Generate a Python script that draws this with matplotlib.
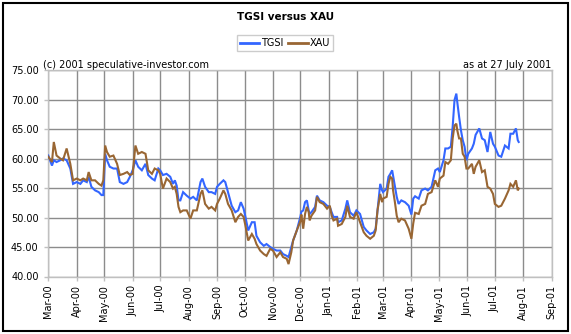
import matplotlib
matplotlib.use("Agg")
import matplotlib.pyplot as plt
import matplotlib.dates as mdates
from matplotlib.patches import Rectangle
import pandas as pd

dates = [
    "2000-03-01", "2000-03-05", "2000-03-07", "2000-03-10", "2000-03-14", "2000-03-17",
    "2000-03-21", "2000-03-25", "2000-03-28", "2000-04-01", "2000-04-05", "2000-04-08",
    "2000-04-12", "2000-04-14", "2000-04-17", "2000-04-21", "2000-04-25", "2000-04-28",
    "2000-04-30", "2000-05-02", "2000-05-04", "2000-05-07", "2000-05-11", "2000-05-15",
    "2000-05-18", "2000-05-22", "2000-05-26", "2000-05-29", "2000-06-01", "2000-06-04",
    "2000-06-07", "2000-06-11", "2000-06-15", "2000-06-18", "2000-06-22", "2000-06-25",
    "2000-06-29", "2000-07-01", "2000-07-04", "2000-07-08", "2000-07-12", "2000-07-15",
    "2000-07-17", "2000-07-19", "2000-07-21", "2000-07-23", "2000-07-26", "2000-07-30",
    "2000-08-03", "2000-08-06", "2000-08-10", "2000-08-14", "2000-08-16", "2000-08-19",
    "2000-08-23", "2000-08-26", "2000-08-30", "2000-09-01", "2000-09-04", "2000-09-08",
    "2000-09-10", "2000-09-13", "2000-09-17", "2000-09-21", "2000-09-24", "2000-09-27",
    "2000-09-30", "2000-10-02", "2000-10-05", "2000-10-09", "2000-10-12", "2000-10-14",
    "2000-10-18", "2000-10-22", "2000-10-25", "2000-10-29", "2000-11-01", "2000-11-05",
    "2000-11-09", "2000-11-12", "2000-11-16", "2000-11-18", "2000-11-21", "2000-11-23",
    "2000-11-27", "2000-12-01", "2000-12-02", "2000-12-04", "2000-12-06", "2000-12-08",
    "2000-12-10", "2000-12-11", "2000-12-13", "2000-12-17", "2000-12-19", "2000-12-22",
    "2000-12-26", "2000-12-30", "2001-01-02", "2001-01-04", "2001-01-06", "2001-01-10",
    "2001-01-11", "2001-01-15", "2001-01-19", "2001-01-21", "2001-01-24", "2001-01-28",
    "2001-01-31", "2001-02-04", "2001-02-08", "2001-02-11", "2001-02-15", "2001-02-19",
    "2001-02-21", "2001-02-23", "2001-02-26", "2001-02-28", "2001-03-01", "2001-03-05",
    "2001-03-07", "2001-03-09", "2001-03-11", "2001-03-12", "2001-03-14", "2001-03-16",
    "2001-03-18", "2001-03-21", "2001-03-25", "2001-03-29", "2001-04-01", "2001-04-03",
    "2001-04-05", "2001-04-09", "2001-04-12", "2001-04-16", "2001-04-19", "2001-04-23",
    "2001-04-27", "2001-04-30", "2001-05-02", "2001-05-06", "2001-05-08", "2001-05-11",
    "2001-05-14", "2001-05-16", "2001-05-18", "2001-05-20", "2001-05-21", "2001-05-23",
    "2001-05-25", "2001-05-27", "2001-05-29", "2001-05-31", "2001-06-02", "2001-06-06",
    "2001-06-08", "2001-06-10", "2001-06-14", "2001-06-17", "2001-06-20", "2001-06-23",
    "2001-06-26", "2001-06-29", "2001-07-01", "2001-07-05", "2001-07-08", "2001-07-12",
    "2001-07-16", "2001-07-18", "2001-07-21", "2001-07-24", "2001-07-26", "2001-07-27",
]

tgsi = [
    60.5, 58.8, 59.7, 59.4, 59.7, 60.0, 59.7, 58.3, 55.7, 56.0, 55.7, 56.3,
    56.0, 56.9, 55.2, 54.6, 54.3, 53.8, 53.8, 60.8, 59.7, 58.6, 58.3, 58.3,
    56.0, 55.7, 56.0, 56.9, 58.0, 59.7, 58.6, 58.0, 59.1, 57.2, 56.6, 56.3,
    58.3, 58.0, 57.2, 57.4, 56.9, 55.7, 56.3, 55.4, 52.9, 52.9, 54.3, 53.7,
    53.2, 53.5, 52.9, 56.0, 56.6, 55.2, 54.3, 54.3, 54.0, 55.2, 55.7, 56.3,
    56.0, 54.3, 52.0, 50.9, 51.2, 52.6, 51.5, 50.1, 47.8, 49.2, 49.2, 46.9,
    45.8, 45.2, 45.5, 45.0, 44.7, 44.4, 44.4, 43.8, 43.5, 43.3, 45.0, 46.1,
    47.8, 50.2, 51.0, 51.2, 52.6, 52.9, 51.2, 50.6, 50.9, 51.8, 53.7, 52.9,
    52.6, 52.0, 51.8, 50.9, 50.1, 50.1, 49.2, 49.5, 51.5, 52.9, 50.9, 50.3,
    51.2, 50.6, 48.4, 47.8, 47.2, 47.5, 48.1, 51.2, 55.7, 54.6, 54.3, 54.9,
    56.9, 57.4, 58.0, 57.1, 55.4, 53.5, 52.3, 52.9, 52.6, 52.0, 50.5, 53.2,
    53.6, 53.2, 54.6, 54.9, 54.6, 55.2, 58.0, 58.3, 57.7, 59.7, 61.7, 61.7,
    62.0, 65.4, 69.9, 71.0, 69.6, 67.1, 64.8, 63.1, 62.0, 59.7, 60.8, 61.7,
    62.5, 64.0, 65.1, 63.4, 63.1, 61.1, 64.5, 62.5, 62.0, 60.5, 60.3, 62.2,
    61.7, 64.2, 64.2, 65.1, 63.1, 62.8,
]

xau = [
    60.3, 59.4, 62.8, 60.5, 60.0, 59.7, 61.7, 59.1, 56.3, 56.6, 56.3, 56.6,
    56.3, 57.7, 56.3, 56.3, 55.7, 55.4, 56.3, 62.2, 61.1, 60.3, 60.5, 59.1,
    57.2, 57.4, 57.7, 57.2, 57.4, 62.2, 60.8, 61.1, 60.8, 58.0, 57.4, 58.3,
    58.0, 57.4, 54.9, 56.6, 56.0, 54.9, 55.2, 54.0, 51.8, 50.9, 51.2, 51.2,
    49.8, 51.2, 51.2, 54.0, 54.6, 52.3, 51.5, 51.8, 51.2, 52.3, 53.2, 54.6,
    54.0, 52.3, 51.2, 49.2, 50.1, 50.6, 50.1, 48.6, 46.1, 47.2, 46.4, 45.5,
    44.4, 43.8, 43.5, 44.7, 44.4, 43.3, 44.1, 43.3, 43.0, 42.1, 44.1, 46.1,
    47.8, 49.4, 50.5, 48.1, 50.6, 51.8, 50.9, 49.5, 50.3, 51.2, 53.5, 52.6,
    52.3, 51.5, 52.0, 50.3, 49.5, 49.8, 48.6, 48.9, 50.1, 52.0, 50.1, 49.8,
    50.9, 49.2, 47.5, 46.9, 46.4, 46.9, 47.8, 51.2, 54.0, 52.6, 53.2, 53.5,
    55.7, 56.9, 56.6, 54.6, 52.6, 50.3, 49.2, 49.8, 49.5, 48.1, 46.4, 49.0,
    50.8, 50.6, 52.0, 52.3, 54.0, 54.3, 56.3, 55.2, 56.6, 57.1, 59.4, 59.1,
    59.7, 63.4, 65.6, 65.9, 64.8, 63.4, 63.4, 60.8, 60.3, 58.3, 58.3, 59.1,
    57.4, 58.6, 59.7, 57.7, 58.0, 55.2, 54.9, 54.0, 52.3, 51.8, 52.0, 53.2,
    54.6, 55.7, 55.2, 56.3, 54.6, 54.9,
]

series_names = ["TGSI", "XAU"]
y_ticks = [40, 45, 50, 55, 60, 65, 70, 75]
title = "TGSI versus XAU"
left_note = "(c) 2001 speculative-investor.com"
right_note = "as at 27 July 2001"

W, H = 571, 334
fig = plt.figure(figsize=(W / 100, H / 100), dpi=100)
fig.patch.set_facecolor("white")

x0, x1, ytop, ybot = 48.3, 551.7, 70.0, 276.5
ax = fig.add_axes([x0 / W, 1 - ybot / H, (x1 - x0) / W, (ybot - ytop) / H])

d = pd.to_datetime(dates)
blue = "#3366ff"
brown = "#996633"
ax.plot(d, tgsi, color=blue, lw=1.5, label=series_names[0], zorder=3, solid_joinstyle="miter")
ax.plot(d, xau, color=brown, lw=1.5, label=series_names[1], zorder=4, solid_joinstyle="miter")

ax.set_xlim(pd.Timestamp("2000-03-01"), pd.Timestamp("2001-09-01"))
ax.set_ylim(40, 75)
ax.set_yticks(y_ticks)
ax.yaxis.set_major_formatter(plt.FormatStrFormatter("%.2f"))
ax.xaxis.set_major_locator(mdates.MonthLocator())
ax.xaxis.set_major_formatter(mdates.DateFormatter("%b-%y"))

ax.grid(True, color="#8c8c8c", lw=1.0)
ax.set_axisbelow(True)
for s in ax.spines.values():
    s.set_color("#c0c0c0")
    s.set_linewidth(1.0)

ax.tick_params(axis="both", colors="#c0c0c0", length=3, width=1, labelcolor="black", labelsize=7)
ax.tick_params(axis="x", pad=3)
ax.tick_params(axis="y", pad=4)
for lab in ax.get_xticklabels():
    lab.set_rotation(90)
    lab.set_ha("center")

fig.text(285.5 / W, 1 - 17 / H, title, ha="center", va="center", fontsize=7.5, fontweight="bold")
fig.text(43 / W, 1 - 65 / H, left_note, ha="left", va="center", fontsize=7)
fig.text(551 / W, 1 - 65 / H, right_note, ha="right", va="center", fontsize=7)

leg = fig.legend(loc="center", bbox_to_anchor=(285 / W, 1 - 43.3 / H), ncol=2,
                 fontsize=7, frameon=True, fancybox=False, handlelength=2.0,
                 handletextpad=0.2, columnspacing=0.5, borderpad=0.3, borderaxespad=0)
leg.get_frame().set_edgecolor("#c0c0c0")
leg.get_frame().set_linewidth(1.0)
for line in leg.get_lines():
    line.set_linewidth(2.0)

fig.patches.append(Rectangle((2.5 / W, 3.5 / H), 565 / W, 328 / H, transform=fig.transFigure,
                             fill=False, edgecolor="black", lw=1.5))

fig.savefig("out.png", dpi=100, facecolor="white")
